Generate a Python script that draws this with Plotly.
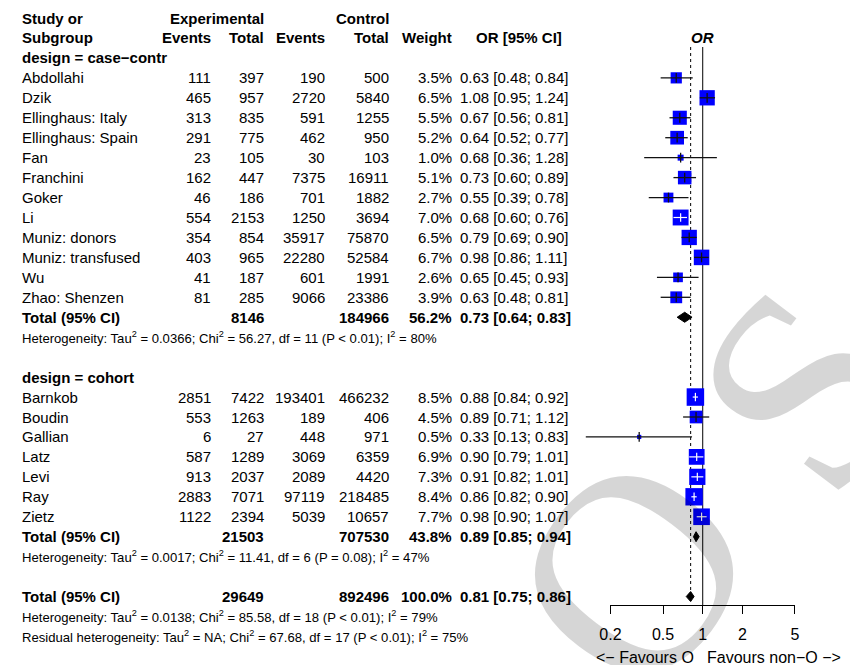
import math
import plotly.graph_objects as go

# ---------------- data ----------------
cc_study = ["Abdollahi", "Dzik", "Ellinghaus: Italy", "Ellinghaus: Spain", "Fan", "Franchini",
            "Goker", "Li", "Muniz: donors", "Muniz: transfused", "Wu", "Zhao: Shenzen"]
cc_ee = [111, 465, 313, 291, 23, 162, 46, 554, 354, 403, 41, 81]
cc_et = [397, 957, 835, 775, 105, 447, 186, 2153, 854, 965, 187, 285]
cc_ce = [190, 2720, 591, 462, 30, 7375, 701, 1250, 35917, 22280, 601, 9066]
cc_ct = [500, 5840, 1255, 950, 103, 16911, 1882, 3694, 75870, 52584, 1991, 23386]
cc_w = [3.5, 6.5, 5.5, 5.2, 1.0, 5.1, 2.7, 7.0, 6.5, 6.7, 2.6, 3.9]
cc_or = [0.63, 1.08, 0.67, 0.64, 0.68, 0.73, 0.55, 0.68, 0.79, 0.98, 0.65, 0.63]
cc_lo = [0.48, 0.95, 0.56, 0.52, 0.36, 0.60, 0.39, 0.60, 0.69, 0.86, 0.45, 0.48]
cc_hi = [0.84, 1.24, 0.81, 0.77, 1.28, 0.89, 0.78, 0.76, 0.90, 1.11, 0.93, 0.81]

co_study = ["Barnkob", "Boudin", "Gallian", "Latz", "Levi", "Ray", "Zietz"]
co_ee = [2851, 553, 6, 587, 913, 2883, 1122]
co_et = [7422, 1263, 27, 1289, 2037, 7071, 2394]
co_ce = [193401, 189, 448, 3069, 2089, 97119, 5039]
co_ct = [466232, 406, 971, 6359, 4420, 218485, 10657]
co_w = [8.5, 4.5, 0.5, 6.9, 7.3, 8.4, 7.7]
co_or = [0.88, 0.89, 0.33, 0.90, 0.91, 0.86, 0.98]
co_lo = [0.84, 0.71, 0.13, 0.79, 0.82, 0.82, 0.90]
co_hi = [0.92, 1.12, 0.83, 1.01, 1.01, 0.90, 1.07]

# totals: case-control, cohort, overall
tot_et = [8146, 21503, 29649]
tot_ct = [184966, 707530, 892496]
tot_w = [56.2, 43.8, 100.0]
tot_or = [0.73, 0.89, 0.81]
tot_lo = [0.64, 0.85, 0.75]
tot_hi = [0.83, 0.94, 0.86]

group_labels = ["design = case\u2212contr", "design = cohort"]
het_cc = "Heterogeneity: Tau<sup>2</sup> = 0.0366; Chi<sup>2</sup> = 56.27, df = 11 (P &lt; 0.01); I<sup>2</sup> = 80%"
het_co = "Heterogeneity: Tau<sup>2</sup> = 0.0017; Chi<sup>2</sup> = 11.41, df = 6 (P = 0.08); I<sup>2</sup> = 47%"
het_all = "Heterogeneity: Tau<sup>2</sup> = 0.0138; Chi<sup>2</sup> = 85.58, df = 18 (P &lt; 0.01); I<sup>2</sup> = 79%"
het_res = "Residual heterogeneity: Tau<sup>2</sup> = NA; Chi<sup>2</sup> = 67.68, df = 17 (P &lt; 0.01); I<sup>2</sup> = 75%"

tick_vals = [0.2, 0.5, 1, 2, 5]
tick_text = ["0.2", "0.5", "1", "2", "5"]
label_left = "&lt;\u2212 Favours O"
label_right = "Favours non\u2212O \u2212&gt;"
watermark = ["O", "S"]

# ---------------- layout helpers ----------------
W, H = 850, 665
FONT = "Liberation Sans, Arial, Helvetica, sans-serif"
FS = 15
FS_SMALL = 13.1
FS_AX = 16
ROW0, ROWH = 18.0, 19.95
DEC = 134.5          # pixels per decade on the OR axis
X_ONE = 705.0        # pixel of OR = 1
L = -X_ONE / DEC
R = (W - X_ONE) / DEC
Y_TOP = -ROW0 / ROWH
Y_BOT = (H - ROW0) / ROWH
AXIS_PX = 605.0


def px(x):
    return x / W


def prow(p):
    return (p - ROW0) / ROWH


annotations = []


def txt(x, r, s, anchor="left", bold=False, size=FS):
    annotations.append(dict(x=px(x), y=r, xref="paper", yref="y",
                            text=("<b>%s</b>" % s) if bold else s, showarrow=False,
                            xanchor=anchor, yanchor="middle", borderpad=0,
                            font=dict(family=FONT, size=size, color="black")))


# faint rotated watermark letters (drawn first so table text sits above them)
wm_pos = [(633, 572), (808, 388)]
for ch, (wx, wy) in zip(watermark, wm_pos):
    annotations.append(dict(x=px(wx), y=1 - wy / H, xref="paper", yref="paper", text=ch,
                            showarrow=False, xanchor="center", yanchor="middle", textangle=-53,
                            font=dict(family="Liberation Serif, Times New Roman, serif",
                                      size=285, color="rgba(0,0,0,0.16)")))

# headers
txt(10, 0, "Study or", bold=True)
txt(10, 1, "Subgroup", bold=True)
txt(259, 0, "Experimental", "right", True)
txt(386, 0, "Control", "right", True)
txt(205, 1, "Events", "right", True)
txt(259, 1, "Total", "right", True)
txt(321, 1, "Events", "right", True)
txt(386, 1, "Total", "right", True)
txt(450, 1, "Weight", "right", True)
txt(518, 1, "OR [95% CI]", "center", True)


def fmt_or(o, lo, hi):
    return "%.2f [%.2f; %.2f]" % (o, lo, hi)


groups = [
    (cc_study, cc_ee, cc_et, cc_ce, cc_ct, cc_w, cc_or, cc_lo, cc_hi, 2, het_cc),
    (co_study, co_ee, co_et, co_ce, co_ct, co_w, co_or, co_lo, co_hi, 18, het_co),
]

sq_x, sq_y, sq_s = [], [], []
blk_x, blk_y, wht_x, wht_y = [], [], [], []
tk_bx, tk_by, tk_wx, tk_wy = [], [], [], []
dia_rows = []

for gi, (st, ee, et, ce, ct, w, o, lo, hi, r0, het) in enumerate(groups):
    txt(10, r0, group_labels[gi], bold=True)
    for i in range(len(st)):
        r = r0 + 1 + i
        txt(10, r, st[i])
        txt(205, r, str(ee[i]), "right")
        txt(259, r, str(et[i]), "right")
        txt(321, r, str(ce[i]), "right")
        txt(386, r, str(ct[i]), "right")
        txt(450, r, "%.1f%%" % w[i], "right")
        txt(457, r, fmt_or(o[i], lo[i], hi[i]), "left")
        size = 6 * math.sqrt(w[i])
        sq_x.append(o[i]); sq_y.append(r); sq_s.append(size)
        ext = max(DEC * math.log10(o[i] / lo[i]), DEC * math.log10(hi[i] / o[i]))
        inside = ext < 0.975 * size / 2
        if inside:
            wht_x += [lo[i], hi[i], None]; wht_y += [r, r, None]
            tk_wx.append(o[i]); tk_wy.append(r)
        else:
            blk_x += [lo[i], hi[i], None]; blk_y += [r, r, None]
            tk_bx.append(o[i]); tk_by.append(r)
    rt = r0 + 1 + len(st)
    txt(10, rt, "Total (95% CI)", bold=True)
    txt(259, rt, str(tot_et[gi]), "right", True)
    txt(386, rt, str(tot_ct[gi]), "right", True)
    txt(450, rt, "%.1f%%" % tot_w[gi], "right", True)
    txt(457, rt, fmt_or(tot_or[gi], tot_lo[gi], tot_hi[gi]), "left", True)
    txt(10, rt + 1, het, size=FS_SMALL)
    dia_rows.append(rt)

# overall
ra = 29
txt(10, ra, "Total (95% CI)", bold=True)
txt(259, ra, str(tot_et[2]), "right", True)
txt(386, ra, str(tot_ct[2]), "right", True)
txt(450, ra, "%.1f%%" % tot_w[2], "right", True)
txt(457, ra, fmt_or(tot_or[2], tot_lo[2], tot_hi[2]), "left", True)
txt(10, ra + 1, het_all, size=FS_SMALL)
txt(10, ra + 2, het_res, size=FS_SMALL)
dia_rows.append(ra)

# forest header and favours labels (log axis -> annotation x in log10 units)
annotations.append(dict(x=0, y=1, xref="x", yref="y", text="<b><i>OR</i></b>", showarrow=False,
                        xanchor="center", yanchor="middle",
                        font=dict(family=FONT, size=FS, color="black")))
yfav = 1 - 657 / H
annotations.append(dict(x=0, y=yfav, xref="x", yref="paper", text=label_left, showarrow=False,
                        xanchor="right", yanchor="middle", xshift=-8, borderpad=0,
                        font=dict(family=FONT, size=FS_AX, color="black")))
annotations.append(dict(x=0, y=yfav, xref="x", yref="paper", text=label_right, showarrow=False,
                        xanchor="left", yanchor="middle", xshift=3, borderpad=0,
                        font=dict(family=FONT, size=FS_AX, color="black")))

fig = go.Figure()

# reference lines
y_line_top = prow(47)
fig.add_trace(go.Scatter(x=[1, 1], y=[y_line_top, prow(AXIS_PX)], mode="lines",
                         line=dict(color="black", width=1), hoverinfo="skip", showlegend=False))
fig.add_trace(go.Scatter(x=[tot_or[2], tot_or[2]], y=[y_line_top, ra], mode="lines",
                         line=dict(color="black", width=1, dash="dot"), hoverinfo="skip", showlegend=False))

# squares
fig.add_trace(go.Scatter(x=sq_x, y=sq_y, mode="markers",
                         marker=dict(symbol="square", size=sq_s, color="#0000FF", opacity=1,
                                     line=dict(width=0)),
                         hoverinfo="skip", showlegend=False))
# CI lines
fig.add_trace(go.Scatter(x=blk_x, y=blk_y, mode="lines", line=dict(color="#111111", width=1.3),
                         hoverinfo="skip", showlegend=False))
fig.add_trace(go.Scatter(x=wht_x, y=wht_y, mode="lines", line=dict(color="white", width=1.2),
                         hoverinfo="skip", showlegend=False))
fig.add_trace(go.Scatter(x=tk_bx, y=tk_by, mode="markers",
                         marker=dict(symbol="line-ns", size=7, line=dict(color="#111111", width=1.3)),
                         hoverinfo="skip", showlegend=False))
fig.add_trace(go.Scatter(x=tk_wx, y=tk_wy, mode="markers",
                         marker=dict(symbol="line-ns", size=6, line=dict(color="white", width=1.2)),
                         hoverinfo="skip", showlegend=False))

# diamonds
dh = 5 / ROWH
for k, r in enumerate(dia_rows):
    fig.add_trace(go.Scatter(x=[tot_lo[k], tot_or[k], tot_hi[k], tot_or[k], tot_lo[k]],
                             y=[r, r - dh, r, r + dh, r], mode="lines", fill="toself",
                             fillcolor="black", line=dict(color="black", width=1),
                             hoverinfo="skip", showlegend=False))

# invisible trace for the displayed OR axis
fig.add_trace(go.Scatter(x=[1], y=[ra], xaxis="x2", yaxis="y", mode="markers",
                         marker=dict(opacity=0), hoverinfo="skip", showlegend=False))

d0 = (math.log10(tick_vals[0]) - L) / (R - L)
d1 = (math.log10(tick_vals[-1]) - L) / (R - L)

fig.update_layout(
    width=W, height=H, margin=dict(l=0, r=0, t=0, b=0),
    paper_bgcolor="white", plot_bgcolor="rgba(0,0,0,0)",
    showlegend=False,
    xaxis=dict(type="log", range=[L, R], domain=[0, 1], visible=False),
    yaxis=dict(range=[Y_BOT, Y_TOP], domain=[0, 1], visible=False),
    xaxis2=dict(type="log", range=[math.log10(tick_vals[0]), math.log10(tick_vals[-1])],
                domain=[d0, d1], anchor="free", position=1 - AXIS_PX / H,
                showline=True, linecolor="black", linewidth=1, ticks="outside", ticklen=8,
                tickwidth=1, tickcolor="black", tickvals=tick_vals, ticktext=tick_text,
                tickfont=dict(family=FONT, size=FS_AX, color="black"), showgrid=False,
                zeroline=False, ticklabelstandoff=7),
    annotations=annotations,
)

fig.write_html("out.html", config={"displayModeBar": False},
               post_script="document.body.style.margin='0';document.body.style.padding='0';")
